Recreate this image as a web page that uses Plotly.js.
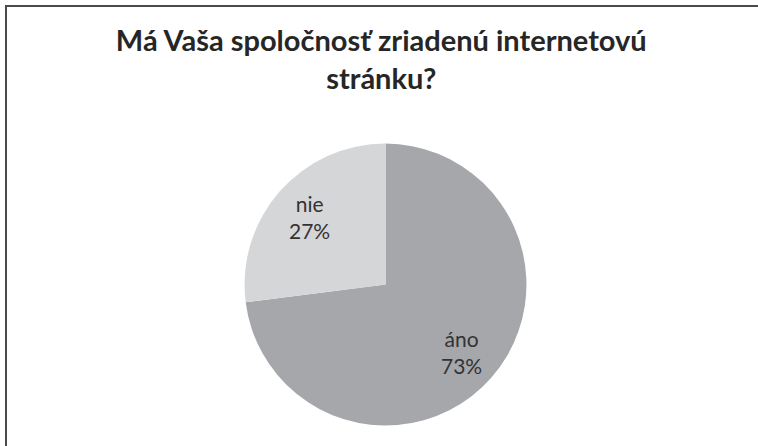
<!DOCTYPE html>
<html>
<head>
<meta charset="utf-8">
<script src="https://cdn.plot.ly/plotly-3.0.1.min.js"></script>
<style>
  html, body { margin: 0; padding: 0; background: #ffffff; }
  #chart { width: 758px; height: 446px; }
  #frame { position: absolute; left: 5px; top: 5px; width: 800px; height: 500px;
           border-left: 2px solid #4a4a4a; border-top: 2px solid #4a4a4a; pointer-events: none; }
</style>
</head>
<body>
<div id="chart"></div>
<div id="frame"></div>
<script>
const titleText = "Má Vaša spoločnosť zriadenú internetovú<br>stránku?";
const categories = ["áno", "nie"];
const values = [73, 27];
const sliceColors = ["#a5a7aa", "#d5d6d8"];

const W = 758, H = 446;
const domX = [0.3226, 0.6946], domY = [0.046, 0.678];

const trace = {
  type: "pie",
  labels: categories,
  values: values,
  sort: false,
  direction: "clockwise",
  rotation: 0,
  marker: { colors: sliceColors, line: { color: "#ffffff", width: 0 } },
  textinfo: "none",
  hoverinfo: "none",
  showlegend: false,
  domain: { x: domX, y: domY }
};

// labels placed at each slice's mid-angle, derived from the values
const total = values.reduce((a, b) => a + b, 0);
const cxPx = (domX[0] + domX[1]) / 2 * W;
const cyPx = (1 - (domY[0] + domY[1]) / 2) * H;
const rPx = Math.min((domX[1] - domX[0]) * W, (domY[1] - domY[0]) * H) / 2;
const annotations = [];
let cum = 0;
values.forEach((v, i) => {
  const mid = (cum + v / 2) / total * 2 * Math.PI;
  cum += v;
  const f = 0.72;
  const px = cxPx + f * rPx * Math.sin(mid);
  const py = cyPx - f * rPx * Math.cos(mid);
  annotations.push({
    xref: "paper", yref: "paper",
    x: px / W, y: 1 - py / H,
    xanchor: "center", yanchor: "middle",
    showarrow: false,
    text: categories[i] + "<br>" + Math.round(v / total * 100) + "%",
    font: { family: "Lato, sans-serif", size: 21, color: "#333333" }
  });
});

const layout = {
  width: W,
  height: H,
  margin: { l: 0, r: 0, t: 0, b: 0 },
  paper_bgcolor: "#ffffff",
  title: {
    text: titleText,
    font: { family: "Lato, sans-serif", size: 29, color: "#262626", weight: "bold" },
    x: 0.503,
    xanchor: "center",
    y: 0.885,
    yanchor: "top",
    yref: "container"
  },
  annotations: annotations,
  showlegend: false
};

Plotly.newPlot("chart", [trace], layout, { staticPlot: true, displayModeBar: false });
</script>
</body>
</html>
